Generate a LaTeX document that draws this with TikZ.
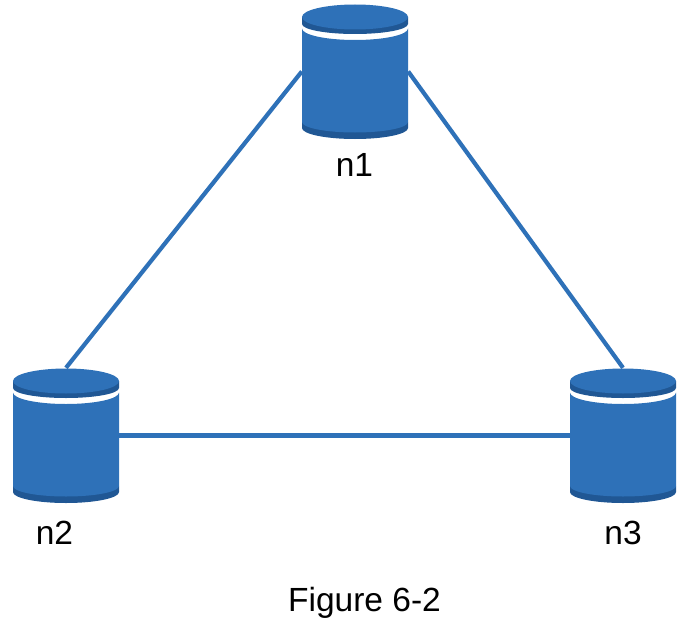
\documentclass[tikz,border=0pt]{standalone}
\usepackage{fontspec}
\setmainfont{Liberation Sans}
\definecolor{cylblue}{RGB}{46,113,184}
\definecolor{cyldark}{RGB}{32,87,148}
\definecolor{linkblue}{RGB}{46,113,184}
\tikzset{
  link/.style={draw=linkblue,line width=4.2pt},
  lbl/.style={font=\fontsize{33.5}{36}\selectfont,text=black,inner sep=0pt},
  cylbox/.style={inner sep=0pt,minimum width=106pt,minimum height=135pt}
}
% #1 node name, #2 centre x, #3 top y
\newcommand{\cylinder}[3]{%
  \begin{scope}[shift={(#2,#3)}]
    \fill[cyldark] (-53,118) -- (-53,124) arc[start angle=180,end angle=0,x radius=53,y radius=11] -- (53,118) -- cycle;
    \fill[cylblue] (-53,24.5) arc[start angle=180,end angle=0,x radius=53,y radius=11.5] -- (53,118) arc[start angle=0,end angle=180,x radius=53,y radius=10.5] -- cycle;
    \fill[cyldark] (-53,13) -- (-53,20) arc[start angle=180,end angle=0,x radius=53,y radius=10] -- (53,13) -- cycle;
    \fill[cylblue] (0,13) ellipse[x radius=53,y radius=12.5];
  \end{scope}
  \node[cylbox] (#1) at (#2,#3+67.5) {};
}
\begin{document}
\begin{tikzpicture}[x=1pt,y=-1pt]
\useasboundingbox (0,0) rectangle (698,626);
\fill[white] (0,0) rectangle (698,626);
\cylinder{n1}{355}{4}
\cylinder{n2}{66}{368}
\cylinder{n3}{623}{368}
\draw[link] (n1.west) -- (n2.north);
\draw[link] (n1.east) -- (n3.north);
\draw[link] (n2.east) -- (n3.west);
\node[lbl] (l1) at (354.5,165) {n1};
\node[lbl] (l2) at (54.5,533) {n2};
\node[lbl] (l3) at (623,533) {n3};
\node[lbl] (cap) at (364.5,603) {Figure 6-2};
\end{tikzpicture}
\end{document}
